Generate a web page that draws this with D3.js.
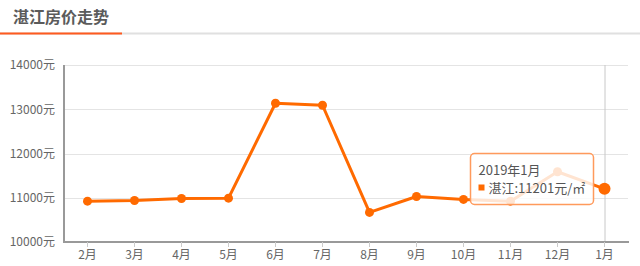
<!DOCTYPE html>
<html><head><meta charset="utf-8">
<script src="https://cdn.jsdelivr.net/npm/d3@7"></script>
<style>
html,body{margin:0;padding:0;background:#fff;}
svg{display:block;font-family:"Noto Sans CJK SC","Noto Sans",sans-serif;}
</style></head>
<body><svg id="c" width="640" height="266"></svg>
<script>
const title = "湛江房价走势";
const months = ["2月","3月","4月","5月","6月","7月","8月","9月","10月","11月","12月","1月"];
const prices = [10923,10939,10984,10991,13136,13090,10668,11029,10962,10923,11588,11201];
const yTicks = [10000,11000,12000,13000,14000];
const tipTitle = "2019年1月";
const tipLabel = "湛江:11201元/㎡";
const hoverIndex = 11;

(function(){
const svg = d3.select("#c");
const orange = "#ff6a00";

// header
svg.append("text").attr("x",13).attr("y",23).attr("font-size",16).attr("font-weight","bold")
  .attr("fill","#5b5b5b").text(title);
svg.append("line").attr("x1",0).attr("x2",640).attr("y1",33.5).attr("y2",33.5).attr("stroke","#e0e0e0").attr("stroke-width",2);
svg.append("line").attr("x1",0).attr("x2",122).attr("y1",33.5).attr("y2",33.5).attr("stroke","#ff5a1f").attr("stroke-width",2);

const pL=64, pR=628, pT=65, pB=242;
const x = d3.scaleBand().domain(months).range([pL,pR]);
const y = d3.scaleLinear().domain([10000,14000]).range([pB,pT]);
const cx = m => x(m)+x.bandwidth()/2;

// grid
svg.append("g").selectAll("line").data(yTicks.slice(1)).join("line")
  .attr("x1",pL).attr("x2",pR).attr("y1",d=>Math.round(y(d))+0.5).attr("y2",d=>Math.round(y(d))+0.5)
  .attr("stroke","#e4e4e4").attr("stroke-width",1.2);

// y labels
svg.append("g").selectAll("text").data(yTicks).join("text")
  .attr("x",55).attr("y",d=>y(d)).attr("dy","0.36em").attr("text-anchor","end")
  .attr("font-size",12).attr("fill","#666").text(d=>d+"元");

// crosshair
svg.append("line").attr("x1",cx(months[hoverIndex])+0.5).attr("x2",cx(months[hoverIndex])+0.5)
  .attr("y1",pT).attr("y2",pB).attr("stroke","#c8c8c8").attr("stroke-width",1);

// x axis
const xAxis = d3.axisBottom(x).tickSize(5).tickPadding(3);
const gx = svg.append("g").attr("transform",`translate(0,${pB})`).call(xAxis);
gx.select(".domain").attr("stroke","#999").attr("stroke-width",2).attr("d",`M${pL},0H${pR+1}`);
gx.selectAll(".tick line").attr("stroke","#ccc");
gx.selectAll(".tick text").attr("font-size",12).attr("fill","#666").attr("font-family","Noto Sans CJK SC");

// y axis line
svg.append("line").attr("x1",pL).attr("x2",pL).attr("y1",pT).attr("y2",pB+1)
  .attr("stroke","#999").attr("stroke-width",2);

// line
const line = d3.line().x((d,i)=>cx(months[i])).y(d=>y(d));
svg.append("path").datum(prices).attr("d",line).attr("fill","none").attr("stroke",orange).attr("stroke-width",3).attr("stroke-linejoin","round");
svg.append("g").selectAll("circle").data(prices).join("circle")
  .attr("cx",(d,i)=>cx(months[i])).attr("cy",d=>y(d)).attr("r",(d,i)=>i===hoverIndex?6:4.5).attr("fill",orange);

// tooltip
const tg = svg.append("g").attr("transform","translate(470.5,153.5)");
tg.append("rect").attr("width",123).attr("height",51).attr("rx",4)
  .attr("fill","rgba(255,255,255,0.82)").attr("stroke","#ff9a5c").attr("stroke-width",1.5);
tg.append("text").attr("x",8).attr("y",21).attr("font-size",13).attr("fill","#555").text(tipTitle);
tg.append("rect").attr("x",8).attr("y",31).attr("width",6).attr("height",6).attr("fill",orange);
tg.append("text").attr("x",18).attr("y",39).attr("font-size",13).attr("fill","#555").text(tipLabel);
})();
</script></body></html>
